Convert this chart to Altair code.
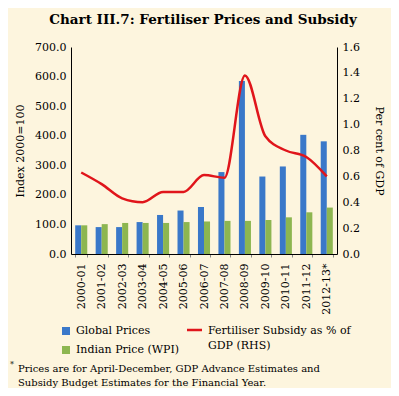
import altair as alt
import pandas as pd

years = ["2000-01", "2001-02", "2002-03", "2003-04", "2004-05", "2005-06", "2006-07",
         "2007-08", "2008-09", "2009-10", "2010-11", "2011-12", "2012-13*"]
global_prices = [97, 91, 91, 108, 132, 147, 159, 277, 585, 262, 296, 403, 381]
indian_price = [97, 101, 105, 105, 105, 108, 110, 112, 112, 115, 124, 141, 157]
subsidy = [0.63, 0.54, 0.43, 0.40, 0.48, 0.48, 0.61, 0.59, 1.38, 0.91, 0.80, 0.75, 0.60]

series_names = ["Global Prices", "Indian Price (WPI)"]
series_colors = ["#3a78c9", "#8db650"]
line_color = "#e0151b"
bg = "#fdf5de"
FONT = "DejaVu Serif"

bars_df = pd.DataFrame({
    "year": years * 2,
    "series": [series_names[0]] * len(years) + [series_names[1]] * len(years),
    "value": global_prices + indian_price,
})
line_df = pd.DataFrame({"year": years, "subsidy": subsidy})
one = pd.DataFrame({"k": [0]})

xenc = alt.X("year:N", sort=years, title=None,
             scale=alt.Scale(paddingInner=0.41, paddingOuter=0.205),
             axis=alt.Axis(labelAngle=270, labelFont=FONT, labelFontSize=11, labelColor="black",
                           labelPadding=6, tickSize=3, tickColor="#888888", tickBand="extent",
                           domainColor="black", labelBaseline="middle"))

bars = alt.Chart(bars_df).mark_bar().encode(
    x=xenc,
    xOffset=alt.XOffset("series:N", sort=series_names, scale=alt.Scale(paddingInner=0, paddingOuter=0)),
    y=alt.Y("value:Q", scale=alt.Scale(domain=[0, 700]), title="Index 2000=100",
            axis=alt.Axis(orient="left", values=list(range(0, 701, 100)), format=".1f",
                          labelFont=FONT, labelFontSize=11, labelColor="black", tickSize=0,
                          labelPadding=5, domainColor="black", grid=False,
                          titleFont=FONT, titleFontSize=11, titleFontWeight="normal",
                          titleColor="black", titlePadding=9)),
    color=alt.Color("series:N", scale=alt.Scale(domain=series_names, range=series_colors), legend=None),
)

line = alt.Chart(line_df).mark_line(color=line_color, strokeWidth=2.5, interpolate="monotone").encode(
    x=alt.X("year:N", sort=years),
    y=alt.Y("subsidy:Q", scale=alt.Scale(domain=[0, 1.6]), title="Per cent of GDP",
            axis=alt.Axis(orient="right", values=[0, 0.2, 0.4, 0.6, 0.8, 1.0, 1.2, 1.4, 1.6], format=".1f",
                          labelFont=FONT, labelFontSize=11, labelColor="black", tickSize=0,
                          labelPadding=5, domainColor="black", grid=False,
                          titleFont=FONT, titleFontSize=11, titleFontWeight="normal",
                          titleColor="black", titlePadding=14)),
)

def txt(s, x, y, size=11, weight="normal", align="left"):
    return alt.Chart(one).mark_text(text=s, font=FONT, fontSize=size, fontWeight=weight,
                                    align=align, baseline="middle", color="black").encode(
        x=alt.value(x), y=alt.value(y))

def box(x1, x2, y1, y2, color):
    return alt.Chart(one).mark_rect(color=color).encode(
        x=alt.value(x1), x2=alt.value(x2), y=alt.value(y1), y2=alt.value(y2))

title = txt("Chart III.7: Fertiliser Prices and Subsidy", 132, -27, size=13.5, weight="bold", align="center")
leg1 = box(-9, -1, 280, 288, series_colors[0])
leg2 = box(-9, -1, 299, 307, series_colors[1])
leg3 = alt.Chart(one).mark_rule(color=line_color, strokeWidth=2.5).encode(
    x=alt.value(116), x2=alt.value(131), y=alt.value(283))
t1 = txt("Global Prices", 5, 284)
t2 = txt("Indian Price (WPI)", 5, 303)
t3 = txt("Fertiliser Subsidy as % of", 137, 284)
t4 = txt("GDP (RHS)", 137, 299)
star = txt("*", -61, 318, size=8)
f1 = txt("Prices are for April-December, GDP Advance Estimates and", -53, 322, size=10)
f2 = txt("Subsidy Budget Estimates for the Financial Year.", -53, 335.5, size=10)

main = alt.layer(bars, line).resolve_scale(y="independent", color="independent")

chart = alt.layer(main, title, leg1, leg2, leg3, t1, t2, t3, t4, star, f1, f2).properties(
    width=266, height=207,
    autosize=alt.AutoSizeParams(type="none"),
    padding={"left": 63, "top": 39, "right": 54, "bottom": 134},
    background=bg,
).configure_view(stroke=None)

chart.save("out.html", embed_options={"renderer": "svg", "actions": False})
